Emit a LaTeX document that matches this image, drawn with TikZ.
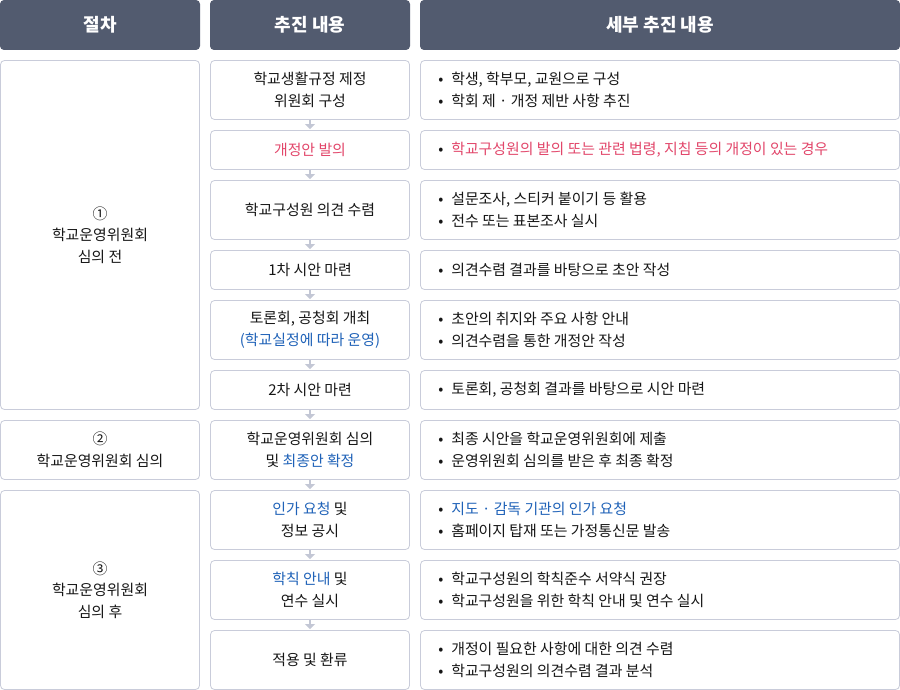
\documentclass[tikz,border=0pt]{standalone}
\usepackage{fontspec}
\setmainfont{Noto Sans CJK KR}
\usetikzlibrary{arrows.meta}
\definecolor{headfill}{HTML}{525B6F}
\definecolor{boxline}{HTML}{C9CCDA}
\definecolor{arrowgray}{HTML}{C3C7D5}
\definecolor{textdark}{HTML}{161616}
\definecolor{accentred}{HTML}{E2466A}
\definecolor{accentblue}{HTML}{1F62B8}
\newcommand{\listdot}{\makebox[13pt][l]{\textcolor{textdark}{•}}}
\begin{document}
\begin{tikzpicture}
[x=1pt, y=-1pt,
  headdecorate/.style={shape=rectangle,fill=headfill,rounded corners=4pt,
    minimum height=50pt,text=white,font=\fontsize{18}{22}\selectfont\bfseries},
  boxdecorate/.style={shape=rectangle,draw=boxline,fill=white,
    rounded corners=4pt,line width=0.8pt},
  textdecorate/.style={align=center,text=textdark,inner sep=0pt,
    font=\fontsize{14.9}{22}\selectfont},
  sidedecorate/.style={align=center,text=textdark,inner sep=0pt,
    font=\fontsize{14.9}{21.5}\selectfont},
  listdecorate/.style={align=left,anchor=west,text=textdark,inner sep=0pt,
    font=\fontsize{14.9}{22}\selectfont},
  linedecorate/.style={-{Triangle[width=10pt,length=5pt]},line width=1.5pt,
    draw=arrowgray,shorten >=1pt}]
\useasboundingbox (0,0) rectangle (900,690);
%% header
\foreach \nodename/\x/\w/\title in {h1/100/200/절차, h2/310/200/추진 내용,
  h3/660/480/세부 추진 내용}
{
  \node (\nodename) at (\x,25) [headdecorate,minimum width=\w pt] {\title};
}
%% boxes
\foreach \nodename/\y/\h in {1/60/60, 2/130/40, 3/180/60, 4/250/40, 5/300/60,
  6/370/40, 7/420/60, 8/490/60, 9/560/60, 10/630/60}
{
  \node (m\nodename) at (310,\y+\h/2) [boxdecorate,minimum width=199pt,
    minimum height={(\h-1)*1pt}] {};
  \node (r\nodename) at (660,\y+\h/2) [boxdecorate,minimum width=479pt,
    minimum height={(\h-1)*1pt}] {};
}
\foreach \nodename/\y/\h in {1/60/350, 2/420/60, 3/490/200}
{
  \node (l\nodename) at (100,\y+\h/2) [boxdecorate,minimum width=199pt,
    minimum height={(\h-1)*1pt}] {};
}
%% texts
\node [sidedecorate] at (l1) {①\\학교운영위원회\\심의 전};
\node [sidedecorate] at (l2) {②\\학교운영위원회 심의};
\node [sidedecorate] at (l3) {③\\학교운영위원회\\심의 후};
\foreach \nodename/\content in {1/{학교생활규정 제정\\위원회 구성},
  2/{\textcolor{accentred}{개정안 발의}}, 3/{학교구성원 의견 수렴},
  4/{1차 시안 마련},
  5/{토론회, 공청회 개최\\\textcolor{accentblue}{(학교실정에 따라 운영)}},
  6/{2차 시안 마련},
  7/{학교운영위원회 심의\\및 \textcolor{accentblue}{최종안 확정}},
  8/{\textcolor{accentblue}{인가 요청} 및\\정보 공시},
  9/{\textcolor{accentblue}{학칙 안내} 및\\연수 실시},
  10/{적용 및 환류}}
{
  \node [textdecorate] at (m\nodename) {\content};
}
\foreach \nodename/\content in {
  1/{\listdot 학생, 학부모, 교원으로 구성\\\listdot 학회 제 · 개정 제반 사항 추진},
  2/{\listdot\textcolor{accentred}{학교구성원의 발의 또는 관련 법령, 지침 등의 개정이 있는 경우}},
  3/{\listdot 설문조사, 스티커 붙이기 등 활용\\\listdot 전수 또는 표본조사 실시},
  4/{\listdot 의견수렴 결과를 바탕으로 초안 작성},
  5/{\listdot 초안의 취지와 주요 사항 안내\\\listdot 의견수렴을 통한 개정안 작성},
  6/{\listdot 토론회, 공청회 결과를 바탕으로 시안 마련},
  7/{\listdot 최종 시안을 학교운영위원회에 제출\\\listdot 운영위원회 심의를 받은 후 최종 확정},
  8/{\listdot\textcolor{accentblue}{지도 · 감독 기관의 인가 요청}\\\listdot 홈페이지 탑재 또는 가정통신문 발송},
  9/{\listdot 학교구성원의 학칙준수 서약식 권장\\\listdot 학교구성원을 위한 학칙 안내 및 연수 실시},
  10/{\listdot 개정이 필요한 사항에 대한 의견 수렴\\\listdot 학교구성원의 의견수렴 결과 분석}}
{
  \node [listdecorate] at ([xshift=18pt]r\nodename.west) {\content};
}
%% arrows
\path
\foreach \startnode/\endnode in {1/2, 2/3, 3/4, 4/5, 5/6, 6/7, 7/8, 8/9, 9/10}
{
  (m\startnode.south) edge[linedecorate] (m\endnode.north)
};
\end{tikzpicture}
\end{document}
